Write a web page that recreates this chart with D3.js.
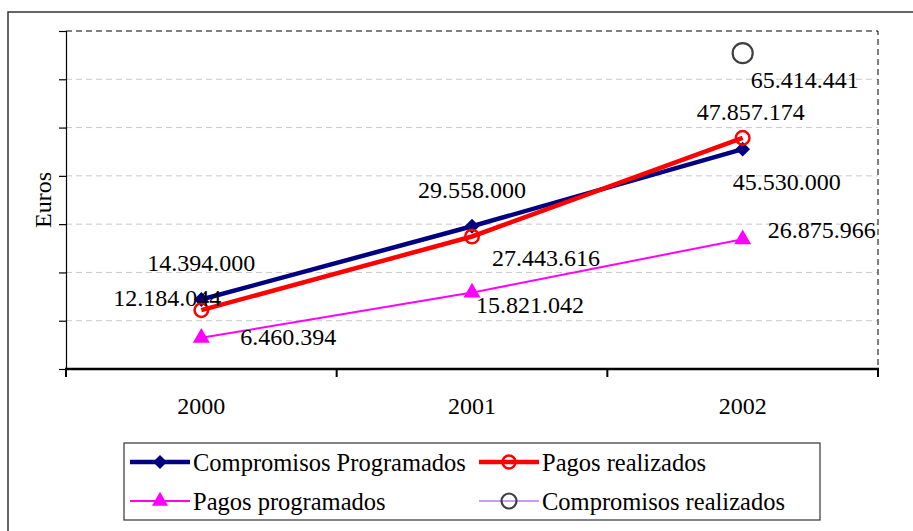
<!DOCTYPE html>
<html>
<head>
<meta charset="utf-8">
<script src="https://cdn.jsdelivr.net/npm/d3@7"></script>
<style>
  body { margin: 0; background: #fff; }
  svg { display: block; }
</style>
</head>
<body>
<script>
var w = 913;
var h = 531;

//Data
var years = ["2000", "2001", "2002"];
var compromisosProgramados = [14394000, 29558000, 45530000];
var pagosRealizados = [12184044, 27443616, 47857174];
var pagosProgramados = [6460394, 15821042, 26875966];
var compromisosRealizados = [null, null, 65414441];
var yTicks = [0, 10000000, 20000000, 30000000, 40000000, 50000000, 60000000, 70000000];

//label offsets from each point (dx, dy), by series
var labelOffsets = {
  cp: [[0, -28], [0, -28], [44, 41]],
  pr: [[-34, -4], [74, 30], [8, -18]],
  pp: [[87, 7], [58, 20], [79, -1]],
  cr: [null, null, [62, 35]]
};

var plotLeft = 66, plotRight = 878, plotTop = 31, plotBottom = 369;
var font = "'Liberation Serif', 'Times New Roman', serif";

var fmt = function(v) {
  return d3.format(",")(v).replace(/,/g, ".");
};

var svg = d3.select("body").append("svg")
  .attr("width", w)
  .attr("height", h);

//outer frame
svg.append("rect")
  .attr("x", 8).attr("y", 12)
  .attr("width", 1000).attr("height", 1000)
  .attr("fill", "none")
  .attr("stroke", "#333")
  .attr("stroke-width", 1.5);

var xScale = d3.scaleBand()
  .domain(years)
  .range([plotLeft, plotRight]);

var yScale = d3.scaleLinear()
  .domain([0, 70000000])
  .range([plotBottom, plotTop]);

var xc = function(i) { return xScale(years[i]) + xScale.bandwidth() / 2; };

//gridlines
svg.selectAll(".grid")
  .data(yTicks.slice(1, -1))
  .enter()
  .append("line")
  .attr("x1", plotLeft).attr("x2", plotRight)
  .attr("y1", function(d) { return yScale(d); })
  .attr("y2", function(d) { return yScale(d); })
  .attr("stroke", "#c8c8c8")
  .attr("stroke-width", 1)
  .attr("stroke-dasharray", "6,4");

//top and right dashed border
svg.append("path")
  .attr("d", "M" + plotLeft + "," + yScale(70000000) + "H" + plotRight + "V" + plotBottom)
  .attr("fill", "none")
  .attr("stroke", "#000")
  .attr("stroke-width", 1)
  .attr("stroke-dasharray", "6,4");

//Y axis
var yAxis = d3.axisLeft(yScale)
  .tickValues(yTicks)
  .tickSize(7)
  .tickFormat("");

svg.append("g")
  .attr("transform", "translate(" + plotLeft + ",0)")
  .call(yAxis)
  .call(function(g) {
    g.selectAll("line, path").attr("stroke", "#000").attr("stroke-width", 1.2);
  });

//X axis labels
var xAxis = d3.axisBottom(xScale)
  .tickSize(0)
  .tickPadding(28);

svg.append("g")
  .attr("transform", "translate(0," + plotBottom + ")")
  .call(xAxis)
  .call(function(g) {
    g.select(".domain").remove();
    g.selectAll("text")
      .attr("font-family", font)
      .attr("font-size", 24)
      .attr("fill", "#000");
  });

//X axis line + boundary ticks
var bounds = years.map(function(d) { return xScale(d); }).concat([xScale.range()[1]]);
svg.append("line")
  .attr("x1", plotLeft - 1).attr("x2", plotRight + 1)
  .attr("y1", plotBottom).attr("y2", plotBottom)
  .attr("stroke", "#000")
  .attr("stroke-width", 2.5);
svg.selectAll(".xtick")
  .data(bounds)
  .enter()
  .append("line")
  .attr("x1", function(d) { return d; })
  .attr("x2", function(d) { return d; })
  .attr("y1", plotBottom).attr("y2", plotBottom + 8)
  .attr("stroke", "#000")
  .attr("stroke-width", 2);

//Euros label
svg.append("text")
  .attr("transform", "translate(51,200) rotate(-90)")
  .attr("text-anchor", "middle")
  .attr("font-family", font)
  .attr("font-size", 24)
  .text("Euros");

var series = [
  { key: "cp", name: "Compromisos Programados", values: compromisosProgramados, color: "#000080", lineColor: "#000080", width: 4.5, marker: "diamond" },
  { key: "pr", name: "Pagos realizados", values: pagosRealizados, color: "#ff0000", lineColor: "#ff0000", width: 4.5, marker: "circle" },
  { key: "pp", name: "Pagos programados", values: pagosProgramados, color: "#ff00ff", lineColor: "#ff00ff", width: 2, marker: "triangle" },
  { key: "cr", name: "Compromisos realizados", values: compromisosRealizados, color: "#404040", lineColor: "#cc99ff", width: 2, marker: "bigcircle" }
];

var line = d3.line()
  .defined(function(d) { return d != null; })
  .x(function(d, i) { return xc(i); })
  .y(function(d) { return yScale(d); });

function drawMarker(g, s, x, y, scale) {
  scale = scale || 1;
  if (s.marker == "diamond") {
    g.append("path")
      .attr("d", d3.symbol().type(d3.symbolSquare).size(110 * scale * scale)())
      .attr("transform", "translate(" + x + "," + y + ") rotate(45)")
      .attr("fill", s.color);
  } else if (s.marker == "circle") {
    g.append("circle")
      .attr("cx", x).attr("cy", y).attr("r", 6.8 * scale)
      .attr("fill", "none")
      .attr("stroke", s.color)
      .attr("stroke-width", 2.5);
  } else if (s.marker == "triangle") {
    g.append("path")
      .attr("d", d3.symbol().type(d3.symbolTriangle).size(125 * scale * scale)())
      .attr("transform", "translate(" + x + "," + y + ")")
      .attr("fill", s.color);
  } else {
    g.append("circle")
      .attr("cx", x).attr("cy", y).attr("r", 10 * scale)
      .attr("fill", "none")
      .attr("stroke", s.color)
      .attr("stroke-width", 2.2);
  }
}

//lines and markers
series.forEach(function(s) {
  var g = svg.append("g");
  g.append("path")
    .datum(s.values)
    .attr("d", line)
    .attr("fill", "none")
    .attr("stroke", s.lineColor)
    .attr("stroke-width", s.width);
  s.values.forEach(function(v, i) {
    if (v == null) return;
    drawMarker(g, s, xc(i), yScale(v));
  });
});

//data labels
series.forEach(function(s) {
  s.values.forEach(function(v, i) {
    if (v == null) return;
    var off = labelOffsets[s.key][i];
    svg.append("text")
      .attr("x", xc(i) + off[0])
      .attr("y", yScale(v) + off[1])
      .attr("text-anchor", "middle")
      .attr("font-family", font)
      .attr("font-size", 24)
      .attr("fill", "#000")
      .text(fmt(v));
  });
});

//legend
var legend = svg.append("g");
legend.append("rect")
  .attr("x", 124).attr("y", 443)
  .attr("width", 696).attr("height", 77)
  .attr("fill", "#fff")
  .attr("stroke", "#333")
  .attr("stroke-width", 1.2);

var legendPos = [[130, 462], [479, 462], [130, 501], [479, 501]];
var legendOrder = [0, 1, 2, 3];
legendOrder.forEach(function(k, j) {
  var s = series[k];
  var p = legendPos[j];
  legend.append("line")
    .attr("x1", p[0]).attr("x2", p[0] + 60)
    .attr("y1", p[1]).attr("y2", p[1])
    .attr("stroke", s.lineColor)
    .attr("stroke-width", s.width);
  drawMarker(legend, s, p[0] + 30, p[1], s.marker == "bigcircle" ? 0.75 : 0.95);
  legend.append("text")
    .attr("x", p[0] + 63)
    .attr("y", p[1] + 9)
    .attr("font-family", font)
    .attr("font-size", 24.5)
    .attr("fill", "#000")
    .text(s.name);
});
</script>
</body>
</html>
